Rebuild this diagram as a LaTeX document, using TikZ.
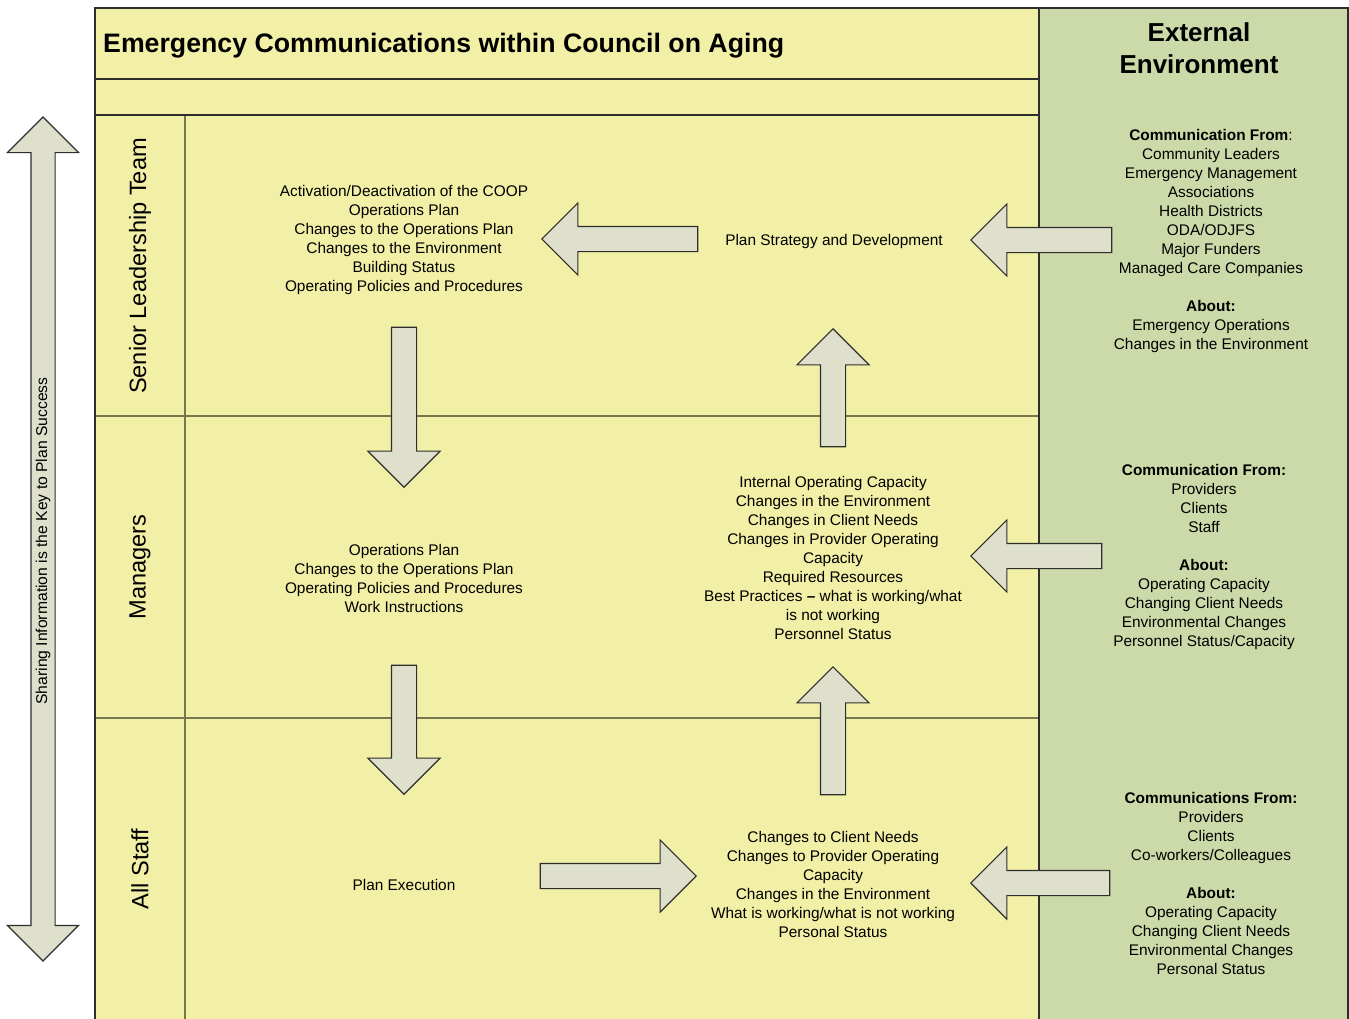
\documentclass[tikz,border=0pt]{standalone}
\usepackage{fontspec}
\setmainfont{Liberation Sans}
\usetikzlibrary{shapes.arrows}
\definecolor{lanefill}{HTML}{F2EFA6}
\definecolor{extfill}{HTML}{CCDAA9}
\definecolor{arrowfill}{HTML}{DEE0CB}
\definecolor{edge}{HTML}{2E2E2E}
\definecolor{laneline}{HTML}{77774F}

\begin{document}
\begin{tikzpicture}[x=1pt,y=-1pt,
  frame/.style={draw=edge,line width=1.3pt},
  laneedge/.style={draw=laneline,line width=1.2pt},
  blockarrow/.style={single arrow, draw=edge, fill=arrowfill, line width=1.1pt,
    inner xsep=0pt, inner ysep=12pt, single arrow head extend=23.5pt,
    single arrow tip angle=90, anchor=tip, minimum height=#1},
  body/.style={align=center, inner sep=0pt, font=\fontsize{15.4}{19}\selectfont},
  lanelabel/.style={rotate=90, inner sep=0pt, font=\fontsize{23.6}{27}\selectfont},
]
\useasboundingbox (0,0) rectangle (1349,1018);

% backgrounds
\fill[lanefill] (95,8) rectangle (1039,1022);
\fill[extfill] (1039,8) rectangle (1348,1022);

% lane grid
\draw[laneedge] (95,416) -- (1039,416);
\draw[laneedge] (95,718) -- (1039,718);
\draw[laneedge] (185,115) -- (185,1022);
\draw[frame] (95,79) -- (1039,79);
\draw[frame] (95,115) -- (1039,115);
\draw[frame] (1039,8) -- (1039,1022);
\draw[frame] (95,8) rectangle (1348,1022);

% side double arrow
\node[double arrow, draw=edge, fill=arrowfill, line width=1.1pt,
  inner xsep=0pt, inner ysep=11.5pt, double arrow head extend=23.5pt,
  double arrow tip angle=90, minimum height=844pt, rotate=90] (share) at (43,539) {};
\node[rotate=90, inner sep=0pt, font=\fontsize{15.7}{19}\selectfont] (sharetext) at (43,541)
  {Sharing Information is the Key to Plan Success};

% block arrows
\node[blockarrow=156pt, rotate=180] (a1) at (541,239) {};
\node[blockarrow=141pt, rotate=180] (a2) at (970,240) {};
\node[blockarrow=118pt, rotate=90] (a3) at (833,328) {};
\node[blockarrow=160pt, rotate=-90] (a4) at (404,488) {};
\node[blockarrow=129pt, rotate=-90] (a5) at (404,795) {};
\node[blockarrow=128pt, rotate=90] (a6) at (833,666) {};
\node[blockarrow=156pt] (a7) at (697,876) {};
\node[blockarrow=131pt, rotate=180] (a8) at (970,556) {};
\node[blockarrow=139pt, rotate=180] (a9) at (970,883) {};

% headings
\node[anchor=base west, inner sep=0pt, font=\fontsize{26.7}{30}\selectfont\bfseries] (title) at (103,52)
  {Emergency Communications within Council on Aging};
\node[align=center, inner sep=0pt, font=\fontsize{26}{32}\selectfont\bfseries] (ext) at (1199,48)
  {External\\Environment};

% lane labels
\node[lanelabel] (lsenior) at (140,266) {Senior Leadership Team};
\node[lanelabel] (lmanagers) at (140,567) {Managers};
\node[lanelabel] (lstaff) at (140,869) {All Staff};

% lane contents
\node[body] (t1) at (404,240.5) {Activation/Deactivation of the COOP\\Operations Plan\\Changes to the Operations Plan\\Changes to the Environment\\Building Status\\Operating Policies and Procedures};
\node[body] (t2) at (834,241.5) {Plan Strategy and Development};
\node[body] (t3) at (404,578.5) {Operations Plan\\Changes to the Operations Plan\\Operating Policies and Procedures\\Work Instructions};
\node[body] (t4) at (833,557.5) {Internal Operating Capacity\\Changes in the Environment\\Changes in Client Needs\\Changes in Provider Operating\\Capacity\\Required Resources\\Best Practices \textbf{--} what is working/what\\is not working\\Personnel Status};
\node[body] (t5) at (404,884.5) {Plan Execution};
\node[body] (t6) at (833,884.5) {Changes to Client Needs\\Changes to Provider Operating\\Capacity\\Changes in the Environment\\What is working/what is not working\\Personal Status};

% external environment contents
\node[body] (e1) at (1211,241.5) {\textbf{Communication From}:\\Community Leaders\\Emergency Management\\Associations\\Health Districts\\ODA/ODJFS\\Major Funders\\Managed Care Companies\\[19pt]\textbf{About:}\\Emergency Operations\\Changes in the Environment};
\node[body] (e2) at (1204,557.5) {\textbf{Communication From:}\\Providers\\Clients\\Staff\\[19pt]\textbf{About:}\\Operating Capacity\\Changing Client Needs\\Environmental Changes\\Personnel Status/Capacity};
\node[body] (e3) at (1211,883.5) {\textbf{Communications From:}\\Providers\\Clients\\Co-workers/Colleagues\\[19pt]\textbf{About:}\\Operating Capacity\\Changing Client Needs\\Environmental Changes\\Personal Status};
\end{tikzpicture}
\end{document}
